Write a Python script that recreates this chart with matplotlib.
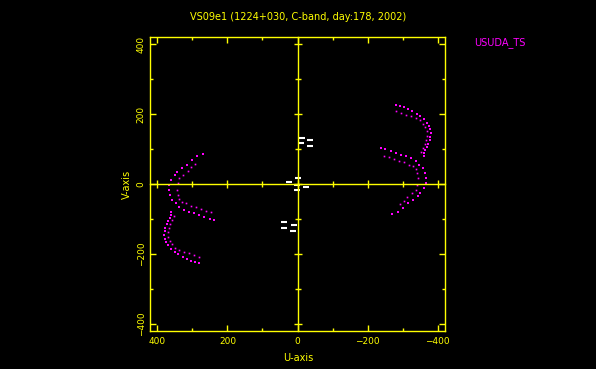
import numpy as np
import matplotlib.pyplot as plt
from matplotlib.ticker import MultipleLocator

title = "VS09e1 (1224+030, C-band, day:178, 2002)"
antenna = "USUDA_TS"

# baseline 1 track, read on the negative-u half (outer = large dots, inner = small dots)
b1_outer_u = [-280, -293, -305, -316, -328, -341, -351, -361, -369, -375, -379,
              -381, -379, -377, -373, -369, -365, -360, -362]
b1_outer_v = [225, 222, 220, 215, 208, 201, 194, 186, 176, 167, 157,
              146, 134, 125, 115, 107, 98, 90, 80]
b1_inner_u = [-282, -296, -311, -325, -339, -349, -358, -365, -369, -369, -368,
              -364, -358, -353]
b1_inner_v = [208, 203, 199, 196, 189, 182, 173, 163, 151, 138, 127,
              115, 103, 93]

# baseline 2 track, read on the positive-u half
b2_outer_u = [271, 286, 300, 314, 329, 343, 351, 361, 366, 366, 363, 357, 347,
              337, 323, 309, 294, 280, 266, 251, 237]
b2_outer_v = [86, 79, 69, 55, 46, 35, 26, 12, -3, -17, -32, -46, -55,
              -65, -75, -80, -84, -89, -94, -99, -102]
b2_inner_u = [293, 303, 313, 328, 337, 342, 344, 342, 337, 329, 318, 304,
              289, 275, 261, 248]
b2_inner_v = [58, 48, 38, 26, 16, 2, -17, -32, -43, -51, -55, -63,
              -66, -72, -77, -80]

# short baselines near the centre (white)
short_u = [-12, -36, -11, -36, -1, 25, 2, -23, 2, 39, 11, 39, 13]
short_v = [133, 127, 117, 109, 16, 6, -3, -8, -18, -110, -117, -127, -134]

yellow = "#ffff00"
magenta = "#ff00ff"

plt.rcParams["font.family"] = "DejaVu Sans"
fig = plt.figure(figsize=(5.96, 3.69), dpi=100, facecolor="black")
pos = [150 / 596, 38 / 369, 295 / 596, 294 / 369]
ax = fig.add_axes(pos, facecolor="black")

lim = 421
ax.set_xlim(lim, -lim)
ax.set_ylim(-lim, lim)

tracks = [
    (b1_outer_u, b1_outer_v, 1.8),
    (b1_inner_u, b1_inner_v, 1.2),
    (b2_outer_u, b2_outer_v, 1.8),
    (b2_inner_u, b2_inner_v, 1.2),
]
for u, v, ms in tracks:
    u = np.array(u)
    v = np.array(v)
    # visibility and its conjugate
    ax.plot(u, v, ls="none", marker="s", ms=ms, mew=0, color=magenta)
    ax.plot(-u, -v, ls="none", marker="s", ms=ms, mew=0, color=magenta)

ax.plot(short_u, short_v, ls="none", marker="_", ms=5, mew=1.5, color="white")

for s in ax.spines.values():
    s.set_color(yellow)
    s.set_linewidth(1.0)
ax.xaxis.set_major_locator(MultipleLocator(200))
ax.xaxis.set_minor_locator(MultipleLocator(100))
ax.yaxis.set_major_locator(MultipleLocator(200))
ax.yaxis.set_minor_locator(MultipleLocator(100))
ax.tick_params(which="both", direction="in", colors=yellow, top=True, right=True,
               width=1.0, labelsize=6.5, labelcolor=yellow)
ax.tick_params(which="major", length=4.3)
ax.tick_params(which="minor", length=2.2)
ax.tick_params(axis="x", pad=4)
ax.tick_params(axis="y", pad=3)
for lab in ax.get_yticklabels():
    lab.set_rotation(90)
    lab.set_va("center")

# zero lines with crossing ticks
az = fig.add_axes(pos, facecolor="none")
az.set_xlim(lim, -lim)
az.set_ylim(-lim, lim)
az.spines["top"].set_visible(False)
az.spines["right"].set_visible(False)
az.spines["left"].set_position(("data", 0))
az.spines["bottom"].set_position(("data", 0))
for s in ["left", "bottom"]:
    az.spines[s].set_color(yellow)
    az.spines[s].set_linewidth(1.0)
az.xaxis.set_major_locator(MultipleLocator(200))
az.xaxis.set_minor_locator(MultipleLocator(100))
az.yaxis.set_major_locator(MultipleLocator(200))
az.yaxis.set_minor_locator(MultipleLocator(100))
az.tick_params(which="both", direction="inout", colors=yellow, width=1.0,
               labelleft=False, labelbottom=False)
az.tick_params(which="major", length=6.0)
az.tick_params(which="minor", length=4.0)

fig.text(298 / 596, 1 - 17 / 369, title, color=yellow, fontsize=7,
         ha="center", va="center")
fig.text(298 / 596, 1 - 358 / 369, "U-axis", color=yellow, fontsize=7,
         ha="center", va="center")
fig.text(127 / 596, 1 - 184 / 369, "V-axis", color=yellow, fontsize=7,
         ha="center", va="center", rotation=90)
fig.text(474 / 596, 1 - 43 / 369, antenna, color=magenta, fontsize=7,
         ha="left", va="center")

fig.savefig("out.png", dpi=100, facecolor="black")
